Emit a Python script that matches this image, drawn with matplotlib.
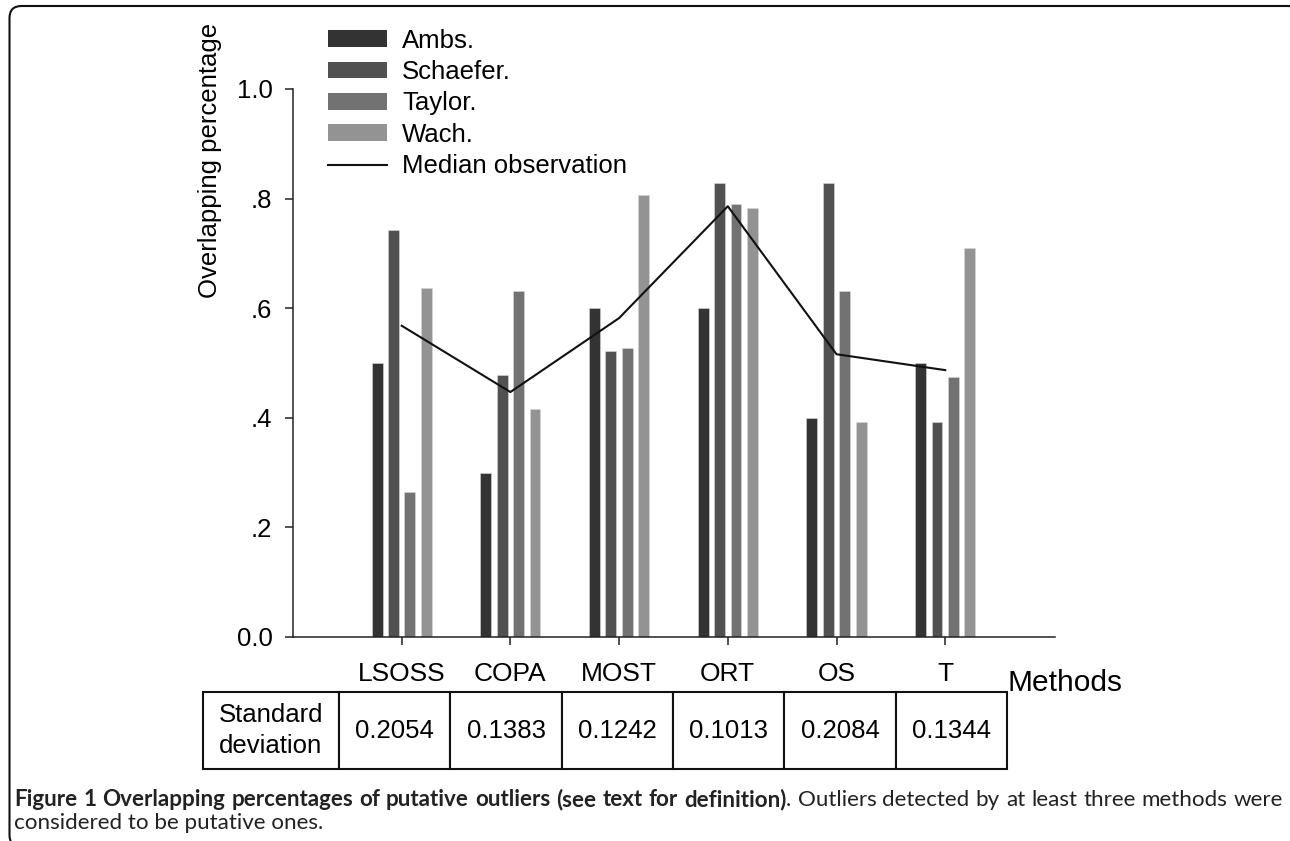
import matplotlib
matplotlib.use('Agg')
import matplotlib.pyplot as plt
from matplotlib.patches import FancyBboxPatch, Patch
from matplotlib.lines import Line2D
from matplotlib.transforms import IdentityTransform
import numpy as np

# ---------------- data ----------------
methods = ['LSOSS', 'COPA', 'MOST', 'ORT', 'OS', 'T']
series_names = ['Ambs.', 'Schaefer.', 'Taylor.', 'Wach.']
amb = [0.50, 0.30, 0.60, 0.60, 0.40, 0.50]
schaefer = [0.742, 0.478, 0.522, 0.828, 0.828, 0.392]
taylor = [0.264, 0.632, 0.527, 0.791, 0.632, 0.474]
wach = [0.636, 0.416, 0.806, 0.782, 0.392, 0.710]
median_obs = [0.568, 0.447, 0.582, 0.786, 0.516, 0.487]
std_label = 'Standard\ndeviation'
std_dev = ['0.2054', '0.1383', '0.1242', '0.1013', '0.2084', '0.1344']
yticks = [0.0, 0.2, 0.4, 0.6, 0.8, 1.0]
ytick_labels = ['0.0', '.2', '.4', '.6', '.8', '1.0']
colors = ['#333333', '#515151', '#727272', '#939393']

W, H = 1290, 841
plt.rcParams['font.family'] = ['Liberation Sans', 'DejaVu Sans']
fig = plt.figure(figsize=(W / 100, H / 100), dpi=100)


def fx(x):
    return x / W


def fy(y):
    return 1 - y / H


FS = 18.5

# ---------------- main axes ----------------
ax = fig.add_axes([fx(293), fy(637), (1055 - 293) / W, (637 - 89) / H])
x = np.arange(len(methods))
series = [amb, schaefer, taylor, wach]
pitch = 0.151
width = 0.10
for i, (vals, c, name) in enumerate(zip(series, colors, series_names)):
    ax.bar(x + (i - 1.5) * pitch, vals, width=width, color=c, label=name,
           edgecolor='#d8d8d8', linewidth=0.4, zorder=2)
ax.plot(x, median_obs, color='#111111', lw=1.5, label='Median observation', zorder=3)

ax.set_xlim(-1.0, 6.01)
ax.set_ylim(0, 1.0)
ax.set_yticks(yticks)
ax.set_yticklabels(ytick_labels)
ax.set_xticks(x)
ax.set_xticklabels(methods)
for s in ['top', 'right']:
    ax.spines[s].set_visible(False)
for s in ['left', 'bottom']:
    ax.spines[s].set_linewidth(1.1)
    ax.spines[s].set_color('#222222')
ax.tick_params(axis='y', direction='out', length=5.8, width=1.1, pad=9.0,
               labelsize=FS, colors='#222222', labelcolor='black')
ax.tick_params(axis='x', direction='out', length=5.8, width=1.1, pad=12.5,
               labelsize=19, colors='#222222', labelcolor='black')

fig.text(fx(210), fy(160), 'Overlapping percentage', rotation=90,
         ha='center', va='center', fontsize=FS)

# legend
handles = [Patch(facecolor=c, edgecolor='none') for c in colors] + \
          [Line2D([0], [0], color='#111111', lw=1.5)]
labels = series_names + ['Median observation']
fig.legend(handles, labels, loc='upper left', bbox_to_anchor=(fx(328), fy(28.5)),
           frameon=False, borderpad=0, borderaxespad=0, handlelength=2.3,
           handleheight=0.62, handletextpad=0.58, labelspacing=0.29, fontsize=FS)

# "Methods" label
fig.text(fx(1008), fy(691), 'Methods', ha='left', va='baseline', fontsize=21.5)

# ---------------- table ----------------
tax = fig.add_axes([fx(203), fy(769), (1007 - 203) / W, (769 - 692) / H])
tax.axis('off')
col_px = [136, 111, 112, 111, 111, 112, 111]
tot = sum(col_px)
tbl = tax.table(cellText=[[std_label] + std_dev], colWidths=[c / tot for c in col_px],
                cellLoc='center', bbox=[0, 0, 1, 1])
tbl.auto_set_font_size(False)
for (r, c), cell in tbl.get_celld().items():
    cell.set_linewidth(1.5)
    cell.set_edgecolor('#111111')
    cell.get_text().set_fontsize(FS)
    if c == 0:
        cell.get_text().set_linespacing(1.38)

# ---------------- caption ----------------
cap_fam = ['Lato', 'Liberation Sans', 'DejaVu Sans']
bold_part = 'Figure 1 Overlapping percentages of putative outliers (see text for definition)'
norm_part = '. Outliers detected by at least three methods were'
line2 = 'considered to be putative ones.'
left, right = 14, 1283
renderer = fig.canvas.get_renderer()

# fit font size so the first line fills the width with natural spacing
probe_b = fig.text(0, 0, bold_part, fontsize=10, fontweight='bold', family=cap_fam)
probe_n = fig.text(0, 0, norm_part, fontsize=10, family=cap_fam)
w10 = probe_b.get_window_extent(renderer).width + probe_n.get_window_extent(renderer).width
probe_b.remove()
probe_n.remove()
cap_size = 10 * (right - left) / w10 * 0.995

tokens = []
for w in bold_part.split(' '):
    tokens.append((w, 'bold', True))
nw = norm_part.split(' ')
tokens.append((nw[0], 'normal', False))
for w in nw[1:]:
    tokens.append((w, 'normal', True))

texts = []
widths = []
for t, wt, _ in tokens:
    tt = fig.text(0, fy(806), t, fontsize=cap_size, fontweight=wt, family=cap_fam,
                  ha='left', va='baseline', color='#222222')
    texts.append(tt)
    widths.append(tt.get_window_extent(renderer).width)
n_gaps = sum(1 for tk in tokens if tk[2]) - 1
gap = (right - left - sum(widths)) / max(n_gaps, 1)
cur = left
for i, (tt, wdt, tk) in enumerate(zip(texts, widths, tokens)):
    if i > 0 and tk[2]:
        cur += gap
    tt.set_x(fx(cur))
    cur += wdt
fig.text(fx(14), fy(829), line2, fontsize=cap_size, family=cap_fam,
         ha='left', va='baseline', color='#222222')

# ---------------- border (pixel coordinates, origin bottom-left) ----------------
border = FancyBboxPatch((9.5, -6), 1302 - 9.5, (H - 6) + 6,
                        boxstyle='round,pad=0,rounding_size=12',
                        transform=IdentityTransform(), fill=False, lw=1.5,
                        edgecolor='#111111')
fig.patches.append(border)

fig.savefig('out.png', dpi=100)
